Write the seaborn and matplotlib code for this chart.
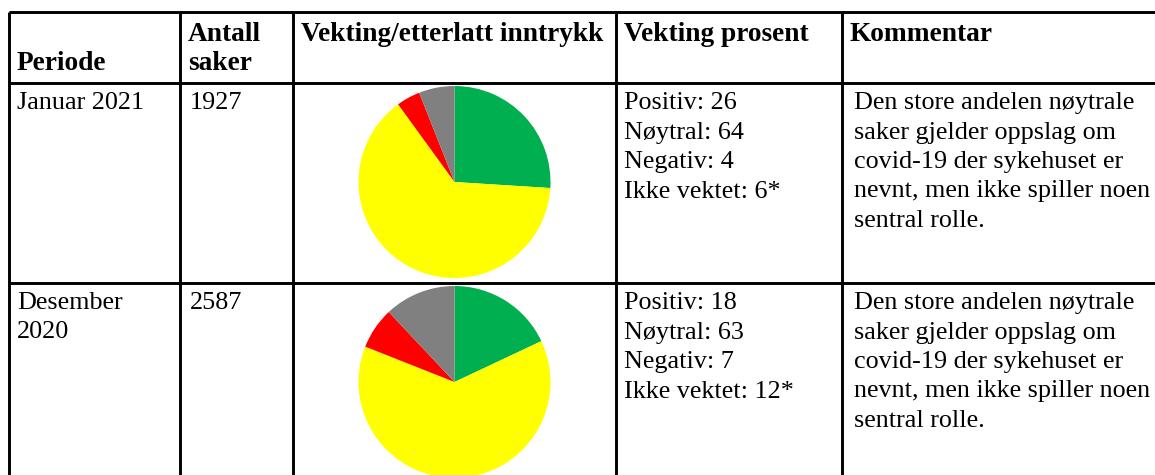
import matplotlib.pyplot as plt
import seaborn as sns

# table content
header_lines = [["Periode"], ["Antall", "saker"], ["Vekting/etterlatt inntrykk"],
                ["Vekting prosent"], ["Kommentar"]]
header_valign = ["bottom", "top", "top", "top", "top"]

periods = [["Januar 2021"], ["Desember", "2020"]]
case_counts = [1927, 2587]

categories = ["Positiv", "Nøytral", "Negativ", "Ikke vektet"]
jan_2021_shares = [26, 64, 4, 6]
dec_2020_shares = [18, 63, 7, 12]
unweighted_note = "*"

comment_lines = ["Den store andelen nøytrale", "saker gjelder oppslag om",
                 "covid-19 der sykehuset er", "nevnt, men ikke spiller noen",
                 "sentral rolle."]

category_colors = ["#00B050", "#FFFF00", "#FF0000", "#808080"]


def main() -> None:
    sns.set_theme(style="white")
    plt.rcParams["font.family"] = ["Liberation Serif", "DejaVu Serif"]
    plt.rcParams["text.color"] = "black"

    width, height = 1155, 475
    fig = plt.figure(figsize=(width / 100, height / 100), dpi=100)
    ax = fig.add_axes([0, 0, 1, 1])
    ax.set_xlim(0, width)
    ax.set_ylim(height, 0)
    ax.axis("off")

    col_edges = [9, 180, 293, 616, 842]
    row_edges = [12, 83, 283]
    line_h = 29.5
    pad_x, pad_y = 8, 8
    body_size = 18.8
    header_size = 19.7

    ax.hlines(row_edges, col_edges[0], width, color="black", lw=2.1)
    ax.vlines(col_edges, row_edges[0], height, color="black", lw=2.1)

    # header row
    for col, lines in enumerate(header_lines):
        first = 1 if header_valign[col] == "bottom" else 0
        for i, txt in enumerate(lines):
            ax.text(col_edges[col] + pad_x, row_edges[0] + pad_y + 2 + (first + i) * line_h,
                    txt, fontsize=header_size, fontweight="bold", va="top", ha="left")

    palette = sns.color_palette(category_colors)
    shares_by_row = [jan_2021_shares, dec_2020_shares]
    row_tops = [row_edges[1], row_edges[2]]
    pie_radius = 96

    for r, top in enumerate(row_tops):
        y0 = top + pad_y + 1
        for i, txt in enumerate(periods[r]):
            ax.text(col_edges[0] + pad_x, y0 + i * line_h, txt, fontsize=body_size, va="top")
        ax.text(col_edges[1] + pad_x + 2, y0, str(case_counts[r]), fontsize=body_size, va="top")

        shares = shares_by_row[r]
        for i, (cat, val) in enumerate(zip(categories, shares)):
            note = unweighted_note if i == len(categories) - 1 else ""
            ax.text(col_edges[3] + pad_x, y0 + i * line_h, f"{cat}: {val}{note}",
                    fontsize=body_size, va="top")
        for i, txt in enumerate(comment_lines):
            ax.text(col_edges[4] + pad_x + 4, y0 + i * line_h, txt, fontsize=body_size, va="top")

        # pie in its own axes, centred in the chart column
        cx = (col_edges[2] + col_edges[3]) / 2
        cy = top + 99
        pax = fig.add_axes([(cx - pie_radius) / width, 1 - (cy + pie_radius) / height,
                            2 * pie_radius / width, 2 * pie_radius / height])
        pax.pie(shares, colors=palette, startangle=90, counterclock=False,
                wedgeprops={"linewidth": 0})
        pax.set_xlim(-1, 1)
        pax.set_ylim(-1, 1)
        pax.axis("off")

    fig.savefig("out.png", dpi=100)
    plt.close(fig)


if __name__ == "__main__":
    main()
